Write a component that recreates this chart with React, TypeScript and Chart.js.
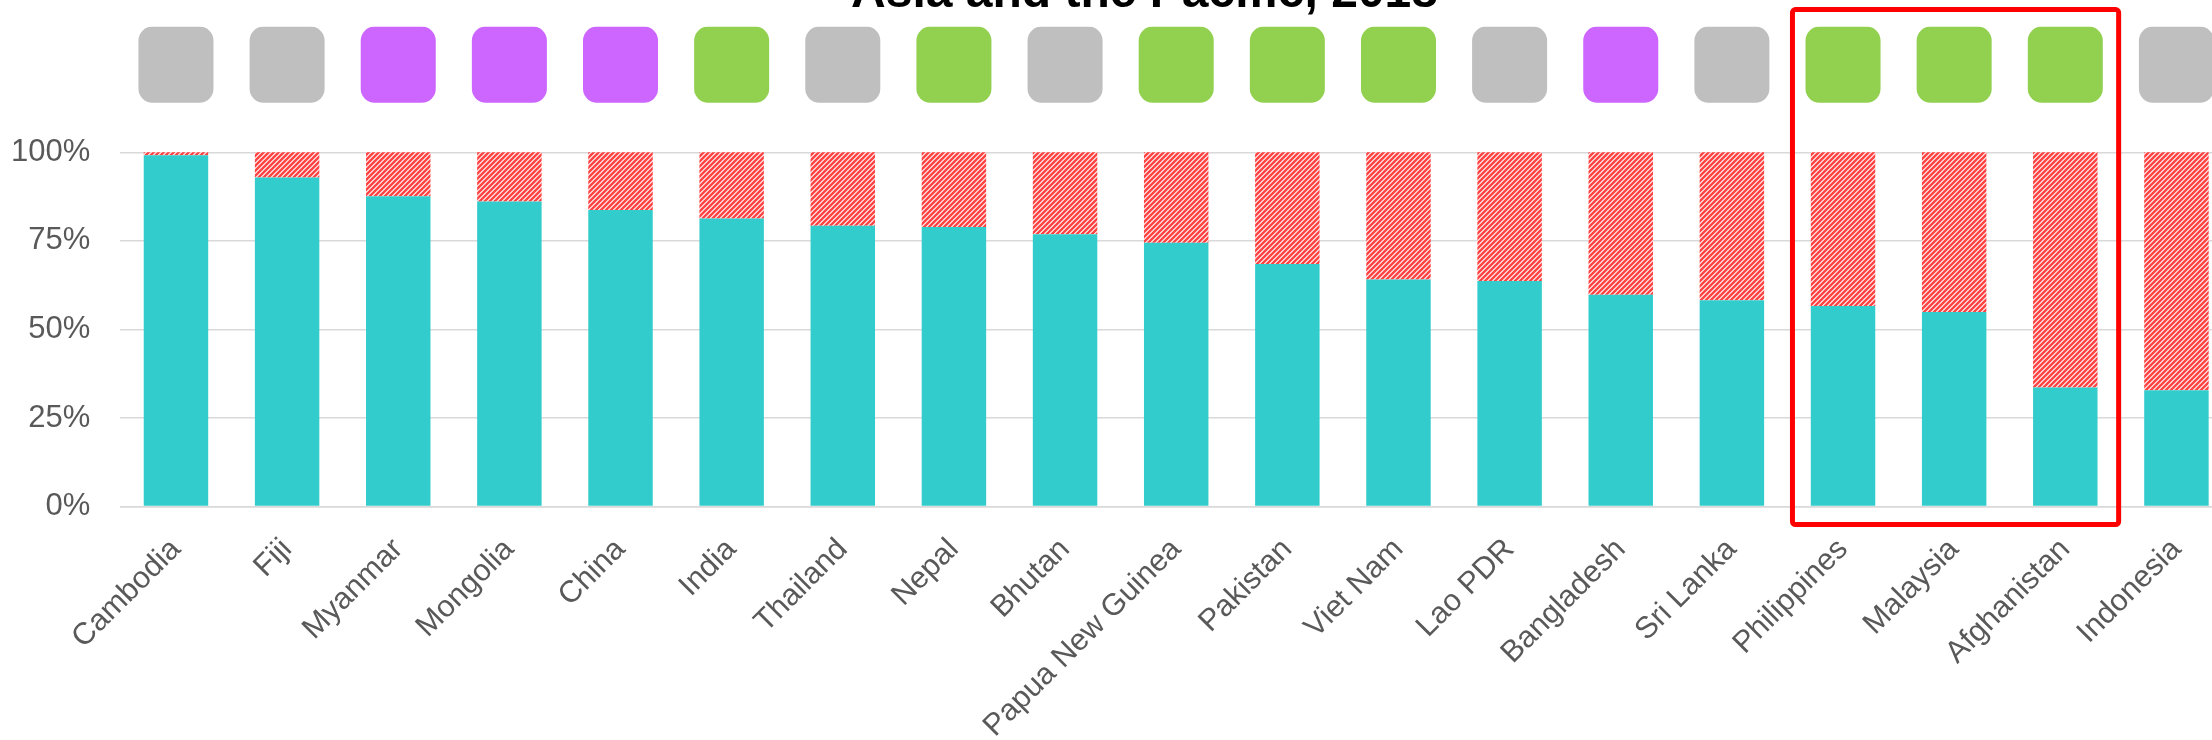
import React, { useEffect, useRef } from 'react';
import { Chart, registerables } from 'chart.js';

Chart.register(...registerables);

// ---------------- data ----------------
const TITLE = 'Asia and the Pacific, 2018';
const countries = [
  'Cambodia', 'Fiji', 'Myanmar', 'Mongolia', 'China', 'India', 'Thailand', 'Nepal', 'Bhutan',
  'Papua New Guinea', 'Pakistan', 'Viet Nam', 'Lao PDR', 'Bangladesh', 'Sri Lanka',
  'Philippines', 'Malaysia', 'Afghanistan', 'Indonesia',
];
const satisfied = [99.2, 92.9, 87.6, 86.1, 83.7, 81.3, 79.3, 78.9, 76.9, 74.5, 68.5, 64.1, 63.7, 59.8, 58.2, 56.6, 54.9, 33.6, 32.8];
const unmet = [0.8, 7.1, 12.4, 13.9, 16.3, 18.7, 20.7, 21.1, 23.1, 25.5, 31.5, 35.9, 36.3, 40.2, 41.8, 43.4, 45.1, 66.4, 67.2];
const groups = [
  'grey', 'grey', 'purple', 'purple', 'purple', 'green', 'grey', 'green', 'grey',
  'green', 'green', 'green', 'grey', 'purple', 'grey', 'green', 'green', 'green', 'grey',
];
const yTicks = [0, 25, 50, 75, 100];
const highlighted = ['Philippines', 'Malaysia', 'Afghanistan'];
const badgeRange = [114, 135.5];
const Y_MAX = 135.5;

// ---------------- styles ----------------
const groupColors: Record<string, string> = { grey: '#bfbfbf', purple: '#cc66ff', green: '#92d050' };
const FONT = '"Liberation Sans", Arial, Helvetica, sans-serif';
const TEXT = '#595959';
const CANVAS_W = 2289;
const CANVAS_H = 800;

function makeHatch(): CanvasPattern | string {
  const s = 5;
  const c = document.createElement('canvas');
  c.width = s;
  c.height = s;
  const g = c.getContext('2d');
  if (!g) return '#ff4d4d';
  g.fillStyle = '#ffffff';
  g.fillRect(0, 0, s, s);
  g.strokeStyle = '#ff4444';
  g.lineWidth = 2.5;
  g.beginPath();
  g.moveTo(-1, s + 1); g.lineTo(s + 1, -1);
  g.moveTo(-1, 1); g.lineTo(1, -1);
  g.moveTo(s - 1, s + 1); g.lineTo(s + 1, s - 1);
  g.stroke();
  return g.createPattern(c, 'repeat') || '#ff4d4d';
}

const highlightPlugin = {
  id: 'highlightBox',
  afterDatasetsDraw(chart: any) {
    const x = chart.scales.x;
    const { ctx, chartArea } = chart;
    const i0 = countries.indexOf(highlighted[0]);
    const i1 = countries.indexOf(highlighted[highlighted.length - 1]);
    const band = x.getPixelForValue(1) - x.getPixelForValue(0);
    const left = x.getPixelForValue(i0) - band * 0.455;
    const right = x.getPixelForValue(i1) + band * 0.48;
    const top = chartArea.top - 17;
    const bottom = chartArea.bottom + 18;
    ctx.save();
    ctx.strokeStyle = '#ff0000';
    ctx.lineWidth = 5;
    ctx.lineJoin = 'round';
    ctx.beginPath();
    if (ctx.roundRect) ctx.roundRect(left, top, right - left, bottom - top, 3);
    else ctx.rect(left, top, right - left, bottom - top);
    ctx.stroke();
    ctx.restore();
  },
};

export default function App() {
  const ref = useRef<HTMLCanvasElement | null>(null);

  useEffect(() => {
    document.body.style.overflow = 'hidden';
    const canvas = ref.current;
    if (!canvas) return;
    const hatch = makeHatch();
    const chart = new Chart(canvas, {
      type: 'bar',
      data: {
        labels: countries,
        datasets: [
          {
            label: 'Satisfied',
            data: satisfied,
            backgroundColor: '#33cccc',
            barPercentage: 0.58,
            categoryPercentage: 1,
            yAxisID: 'y',
          },
          {
            label: 'Unmet',
            data: unmet,
            backgroundColor: hatch as any,
            barPercentage: 0.58,
            categoryPercentage: 1,
            yAxisID: 'y',
          },
          {
            label: 'Status',
            data: countries.map(() => badgeRange) as any,
            backgroundColor: groups.map((g) => groupColors[g]),
            borderRadius: 14,
            borderSkipped: false,
            barPercentage: 0.675,
            categoryPercentage: 1,
            yAxisID: 'y2',
          },
        ],
      },
      options: {
        responsive: false,
        animation: false,
        devicePixelRatio: 1,
        layout: { padding: 0 },
        plugins: {
          legend: { display: false },
          tooltip: { enabled: false },
          title: {
            display: true,
            text: TITLE,
            color: '#000000',
            font: { family: FONT, size: 48, weight: 'bold' },
            padding: { top: 9, bottom: 4 },
          },
        },
        scales: {
          x: {
            stacked: true,
            grid: { display: false },
            border: { display: true, color: '#d9d9d9', width: 1.5 },
            ticks: {
              autoSkip: false,
              maxRotation: 45,
              minRotation: 45,
              padding: 17,
              color: TEXT,
              font: { family: FONT, size: 30.5 },
            },
            afterFit: (s: any) => { s.height = CANVAS_H - 550.5; },
          },
          y: {
            stacked: true,
            min: 0,
            max: Y_MAX,
            afterBuildTicks: (s: any) => { s.ticks = yTicks.map((v) => ({ value: v })); },
            ticks: {
              color: TEXT,
              padding: 30,
              font: { family: FONT, size: 31 },
              callback: (v: any) => `${v}%`,
            },
            grid: { color: '#d9d9d9', lineWidth: 1.5, drawTicks: false },
            border: { display: false },
            afterFit: (s: any) => { s.width = 120.4; },
          },
          y2: {
            position: 'right',
            stacked: false,
            min: 0,
            max: Y_MAX,
            ticks: { display: false },
            grid: { display: false, drawTicks: false },
            border: { display: false },
            afterFit: (s: any) => { s.width = 57; },
          },
        },
      } as any,
      plugins: [highlightPlugin],
    });
    return () => chart.destroy();
  }, []);

  return (
    <div style={{ position: 'fixed', left: 0, top: 0, width: 2212, height: 740, overflow: 'hidden', background: '#ffffff' }}>
      <canvas
        ref={ref}
        width={CANVAS_W}
        height={CANVAS_H}
        style={{ position: 'absolute', left: 0, top: -44, width: CANVAS_W, height: CANVAS_H }}
      />
    </div>
  );
}
